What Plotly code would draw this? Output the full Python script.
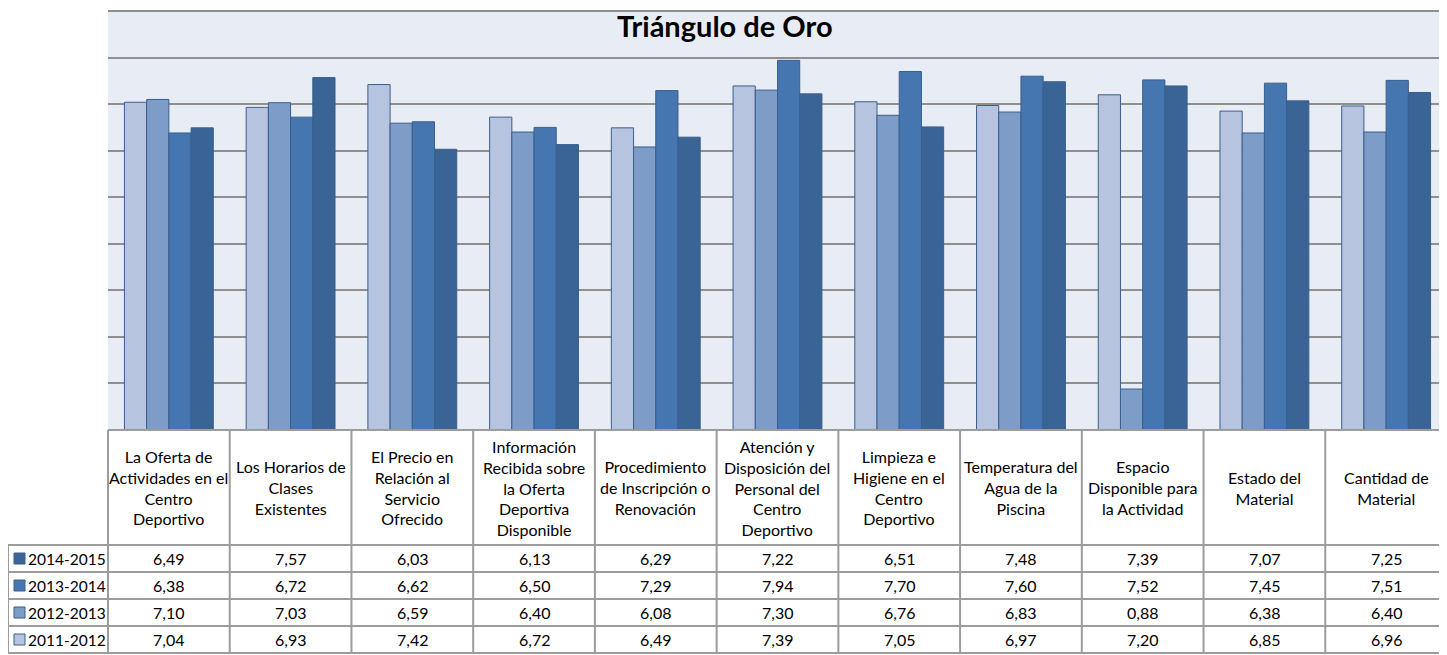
import plotly.graph_objects as go

# ---------------- data ----------------
categories = [
    "La Oferta de Actividades en el Centro Deportivo",
    "Los Horarios de Clases Existentes",
    "El Precio en Relación al Servicio Ofrecido",
    "Información Recibida sobre la Oferta Deportiva Disponible",
    "Procedimiento de Inscripción o Renovación",
    "Atención y Disposición del Personal del Centro Deportivo",
    "Limpieza e Higiene en el Centro Deportivo",
    "Temperatura del Agua de la Piscina",
    "Espacio Disponible para la Actividad",
    "Estado del Material",
    "Cantidad de Material",
]
header_labels = [
    "La Oferta de<br>Actividades en el<br>Centro<br>Deportivo",
    "Los Horarios de<br>Clases<br>Existentes",
    "El Precio en<br>Relación al<br>Servicio<br>Ofrecido",
    "Información<br>Recibida sobre<br>la Oferta<br>Deportiva<br>Disponible",
    "Procedimiento<br>de Inscripción o<br>Renovación",
    "Atención y<br>Disposición del<br>Personal del<br>Centro<br>Deportivo",
    "Limpieza e<br>Higiene en el<br>Centro<br>Deportivo",
    "Temperatura del<br>Agua de la<br>Piscina",
    "Espacio<br>Disponible para<br>la Actividad",
    "Estado del<br>Material",
    "Cantidad de<br>Material",
]
series_names = ["2011-2012", "2012-2013", "2013-2014", "2014-2015"]
v_2011_2012 = [7.04, 6.93, 7.42, 6.72, 6.49, 7.39, 7.05, 6.97, 7.20, 6.85, 6.96]
v_2012_2013 = [7.10, 7.03, 6.59, 6.40, 6.08, 7.30, 6.76, 6.83, 0.88, 6.38, 6.40]
v_2013_2014 = [6.38, 6.72, 6.62, 6.50, 7.29, 7.94, 7.70, 7.60, 7.52, 7.45, 7.51]
v_2014_2015 = [6.49, 7.57, 6.03, 6.13, 6.29, 7.22, 6.51, 7.48, 7.39, 7.07, 7.25]
series_values = [v_2011_2012, v_2012_2013, v_2013_2014, v_2014_2015]
series_colors = ["#B6C4DF", "#7E9CC8", "#4676B0", "#3A6496"]
title_text = "Triángulo de Oro"

# ---------------- geometry (reference window pixels) ----------------
OFF = 8                             # page body margin around the figure
W, H = 1447 - OFF, 655 - OFF        # figure size
PL, PT, PB = 108, 11, 430           # plot area left / top / bottom
TL = 8                              # table left edge (legend column)
HEAD_B = 545                        # bottom of header row
TB = 653                            # table bottom
ROW_H = (TB - HEAD_B) / 4
COL_W = (1447 - PL) / len(categories)
FONT = "Lato"
GRID = "#8F8F8F"
TABLE_LINE = "#9C9C9C"
OUTLINE = "#3A5F8C"


def fx(x):
    return (x - OFF) / W


def fy(y):
    return 1 - (y - OFF) / H


fig = go.Figure()
for name, vals, col in zip(series_names, series_values, series_colors):
    fig.add_trace(go.Bar(
        x=categories, y=vals, name=name,
        marker=dict(color=col, line=dict(color=OUTLINE, width=1)),
        showlegend=False, hoverinfo="x+y+name",
    ))

shapes = []
annotations = []

# top border of plot area
shapes.append(dict(type="line", xref="paper", yref="paper",
                   x0=fx(PL), x1=1, y0=fy(PT), y1=fy(PT),
                   line=dict(color=GRID, width=2)))

# table: horizontal lines
shapes.append(dict(type="line", xref="paper", yref="paper",
                   x0=fx(PL), x1=1, y0=fy(PB), y1=fy(PB),
                   line=dict(color=TABLE_LINE, width=2)))
for r in range(5):
    yy = HEAD_B + r * ROW_H
    shapes.append(dict(type="line", xref="paper", yref="paper",
                       x0=fx(TL), x1=1, y0=fy(yy), y1=fy(yy),
                       line=dict(color=TABLE_LINE, width=2)))
# table: vertical lines
shapes.append(dict(type="line", xref="paper", yref="paper",
                   x0=fx(TL), x1=fx(TL), y0=fy(HEAD_B), y1=fy(TB),
                   line=dict(color=TABLE_LINE, width=2)))
for c in range(len(categories) + 1):
    xx = PL + c * COL_W
    shapes.append(dict(type="line", xref="paper", yref="paper",
                       x0=fx(xx), x1=fx(xx), y0=fy(PB), y1=fy(TB),
                       line=dict(color=TABLE_LINE, width=2)))

# header labels
for c, lab in enumerate(header_labels):
    annotations.append(dict(
        xref="paper", yref="paper", x=fx(PL + (c + 0.5) * COL_W),
        y=fy((PB + HEAD_B) / 2), text=lab, showarrow=False,
        xanchor="center", yanchor="middle", align="center",
        font=dict(family=FONT, size=16, color="black")))

# data rows (latest season on top)
row_order = list(range(len(series_names)))[::-1]
for r, si in enumerate(row_order):
    yc = HEAD_B + (r + 0.5) * ROW_H
    # legend key
    shapes.append(dict(type="rect", xref="paper", yref="paper",
                       x0=fx(14), x1=fx(25), y0=fy(yc - 5.5), y1=fy(yc + 5.5),
                       fillcolor=series_colors[si],
                       line=dict(color=OUTLINE, width=1)))
    annotations.append(dict(
        xref="paper", yref="paper", x=fx(26), y=fy(yc),
        text=series_names[si], showarrow=False, xanchor="left", yanchor="middle",
        font=dict(family=FONT, size=15.5, color="black")))
    for c, v in enumerate(series_values[si]):
        annotations.append(dict(
            xref="paper", yref="paper", x=fx(PL + (c + 0.5) * COL_W), y=fy(yc),
            text=f"{v:.2f}".replace(".", ","), showarrow=False,
            xanchor="center", yanchor="middle",
            font=dict(family=FONT, size=16, color="black")))

# title
annotations.append(dict(
    xref="paper", yref="paper", x=fx(725), y=fy(26), text=f"<b>{title_text}</b>",
    showarrow=False, xanchor="center", yanchor="middle",
    font=dict(family=FONT, size=29, color="black")))

fig.update_layout(
    width=W, height=H,
    margin=dict(l=0, r=0, t=0, b=0),
    paper_bgcolor="white", plot_bgcolor="#E8EDF5",
    barmode="group", bargap=0.27, bargroupgap=0,
    xaxis=dict(domain=[fx(PL), 1], showticklabels=False, showgrid=False,
               showline=False, zeroline=False, ticks=""),
    yaxis=dict(domain=[fy(PB), fy(PT)], range=[0, 9], dtick=1,
               showticklabels=False, showgrid=True, gridcolor=GRID, gridwidth=2,
               zeroline=False, showline=False, ticks=""),
    shapes=shapes, annotations=annotations,
)

fig.write_html("out.html")
